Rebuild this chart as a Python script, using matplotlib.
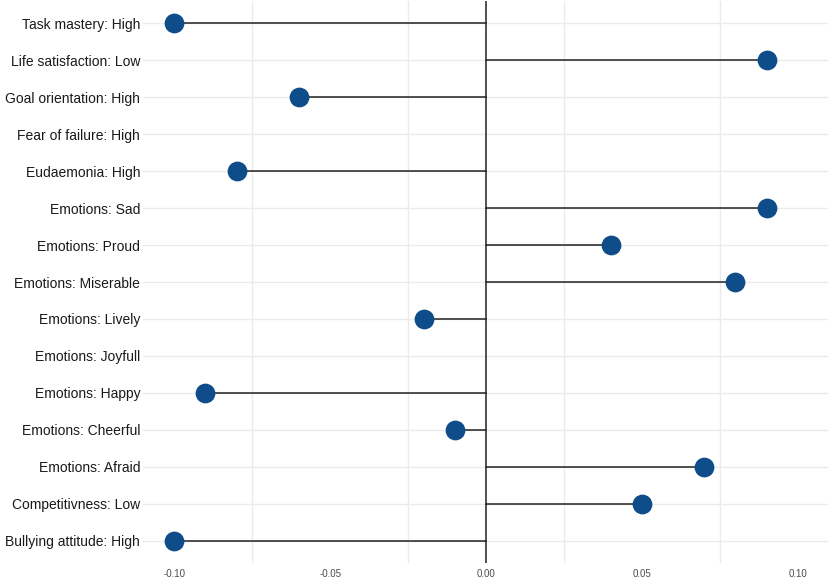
import numpy as np
import matplotlib
matplotlib.use("Agg")
import matplotlib.pyplot as plt

categories = [
    "Task mastery: High",
    "Life satisfaction: Low",
    "Goal orientation: High",
    "Fear of failure: High",
    "Eudaemonia: High",
    "Emotions: Sad",
    "Emotions: Proud",
    "Emotions: Miserable",
    "Emotions: Lively",
    "Emotions: Joyfull",
    "Emotions: Happy",
    "Emotions: Cheerful",
    "Emotions: Afraid",
    "Competitivness: Low",
    "Bullying attitude: High",
]
values = [-0.10, 0.09, -0.06, np.nan, -0.08, 0.09, 0.04, 0.08, -0.02, np.nan,
          -0.09, -0.01, 0.07, 0.05, -0.10]
xticks = [-0.10, -0.05, 0.00, 0.05, 0.10]
xticklabels = ["-0.10", "-0.05", "0.00", "0.05", "0.10"]
minor_grid = [-0.075, -0.025, 0.025, 0.075]

plt.rcParams['font.family'] = ['Liberation Sans', 'DejaVu Sans']

fig = plt.figure(figsize=(8.29, 5.77), dpi=100)
ax = fig.add_axes([143/829, 1 - 563/577, 686/829, 562/577])

n = len(categories)
ypos = np.arange(n)[::-1]

ax.set_xlim(-0.11, 0.11)
ax.set_ylim(-0.6, n - 1 + 0.6)

# grid
for x in minor_grid:
    ax.axvline(x, color='#ebebeb', lw=1.0, zorder=0)
for y in ypos:
    ax.axhline(y, color='#ebebeb', lw=1.0, zorder=0)

ax.axvline(0, color='#222222', lw=1.1, zorder=1)

for y, v in zip(ypos, values):
    if np.isnan(v):
        continue
    ax.plot([0, v], [y, y], color='#222222', lw=1.1, zorder=2)
    ax.scatter([v], [y], s=175, color='#0f4c8a', edgecolor='#0f4c8a', zorder=3)

ax.set_yticks(ypos)
ax.set_yticklabels(categories, fontsize=10, color='#1a1a1a')
ax.set_xticks(xticks)
ax.set_xticklabels(xticklabels, fontsize=7, color='#4d4d4d')
ax.tick_params(axis='both', length=0)
ax.tick_params(axis='y', pad=2)
ax.tick_params(axis='x', pad=4)
for s in ax.spines.values():
    s.set_visible(False)

fig.savefig("out.png", dpi=100)
